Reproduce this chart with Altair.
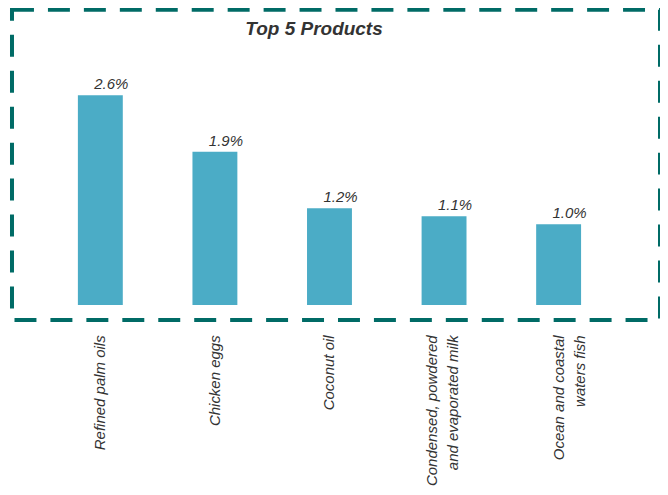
import altair as alt
import pandas as pd

categories = [
    "Refined palm oils",
    "Chicken eggs",
    "Coconut oil",
    "Condensed, powdered\nand evaporated milk",
    "Ocean and coastal\nwaters fish",
]
values = [2.6, 1.9, 1.2, 1.1, 1.0]
value_labels = ["2.6%", "1.9%", "1.2%", "1.1%", "1.0%"]
title_text = "Top 5 Products"

df = pd.DataFrame({"product": categories, "share": values, "label": value_labels})

x_enc = alt.X(
    "product:N",
    sort=categories,
    title=None,
    scale=alt.Scale(paddingInner=0.608, paddingOuter=0.632, align=0.455),
    axis=alt.Axis(
        labelAngle=-90,
        labelExpr="split(datum.label, '\\n')",
        labelFont="Liberation Sans",
        labelFontStyle="italic",
        labelFontSize=15,
        labelColor="#333333",
        labelLineHeight=21,
        labelPadding=15,
        labelOffset={
            "condition": {"test": "indexof(datum.value, 'Condensed') >= 0", "value": -12},
            "value": 0,
        },
        ticks=False,
        domain=False,
        labelLimit=300,
    ),
)
y_scale = alt.Scale(domain=[-0.186, 3.659], nice=False, zero=False)

bars = alt.Chart(df).mark_bar(color="#4bacc6").encode(
    x=x_enc,
    y=alt.Y("share:Q", scale=y_scale, axis=None),
    y2=alt.datum(0),
)

texts = alt.Chart(df).mark_text(
    font="Liberation Sans",
    fontStyle="italic",
    fontSize=15,
    color="#333333",
    baseline="alphabetic",
    dy=-6,
    dx=11,
).encode(
    x=alt.X("product:N", sort=categories),
    y=alt.Y("share:Q", scale=y_scale),
    text="label:N",
)

chart = (
    alt.layer(bars, texts)
    .properties(
        width=649,
        height=310.5,
        autosize=alt.AutoSizeParams(type="none"),
        padding={"left": 4, "top": 1.5, "right": 0, "bottom": 178},
        view=alt.ViewBackground(stroke="#006b66", strokeWidth=4, strokeDash=[22, 14]),
        title=alt.TitleParams(
            title_text,
            font="Liberation Sans",
            fontStyle="italic",
            fontWeight="bold",
            fontSize=19,
            color="#333333",
            anchor="middle",
            baseline="alphabetic",
            offset=-44,
            dx=-22,
        ),
    )
    .configure_view(stroke="#006b66", strokeWidth=4, strokeDash=[22, 14])
    .configure(background="white")
)

chart.save("out.html", embed_options={"renderer": "svg", "actions": False})
